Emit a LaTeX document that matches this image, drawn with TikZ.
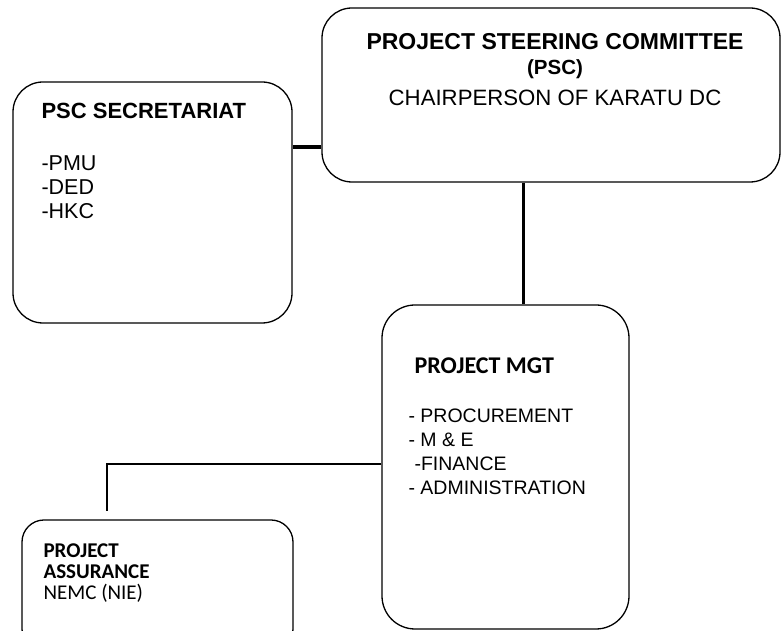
\documentclass[tikz,border=0pt]{standalone}
\usepackage{fontspec}
\setmainfont{Liberation Sans}
\newfontfamily\calibri{Carlito}
\usetikzlibrary{positioning}

\begin{document}
\begin{tikzpicture}[x=1pt,y=1pt,node distance=5pt,
panel/.style={
  draw=black,
  line width=1.3pt,
  rounded corners=30pt,
  inner sep=0pt},
panel2/.style={
  panel,
  rounded corners=22pt},
label/.style={
  inner sep=0pt,
  align=left,
  font={\fontsize{21.5pt}{24pt}\selectfont}},
headline/.style={
  label,
  align=center,
  font={\bfseries\fontsize{22pt}{25pt}\selectfont}},
calibrilabel/.style={
  label,
  font={\calibri\fontsize{21pt}{21pt}\selectfont}},
link/.style={
  line width=1.3pt},
]

\useasboundingbox (0,0) rectangle (782,631);
\clip (0,0) rectangle (782,631);

\node[panel,minimum width=458pt,minimum height=174pt] (PSC) at (551,536) {};
\node[headline,below=26pt of PSC.north,xshift=4pt] (psctitle)
{{\fontsize{23pt}{25pt}\selectfont PROJECT STEERING COMMITTEE}\\
{\fontsize{20.5pt}{25pt}\selectfont (PSC)}\\[6pt]
{\mdseries\fontsize{22.2pt}{25pt}\selectfont CHAIRPERSON OF KARATU DC}};

\node[panel,minimum width=279pt,minimum height=241pt] (SEC) at (152.5,428.5) {};
\node[label,below right=22pt and 29pt of SEC.north west] (sectext)
{{\bfseries\fontsize{22pt}{24pt}\selectfont PSC SECRETARIAT}\\[28pt]-PMU\\-DED\\-HKC};

\node[panel,minimum width=247pt,minimum height=324pt,rounded corners=33pt] (MGT) at (505.5,164) {};
\node[calibrilabel,below right=53pt and 33pt of MGT.north west,
  font={\calibri\bfseries\fontsize{24pt}{27pt}\selectfont}] (mgttitle) {PROJECT MGT};
\node[label,below right=104pt and 27pt of MGT.north west,
  font={\fontsize{19.5pt}{24pt}\selectfont}] (mgtlist)
{- PROCUREMENT\\- M \& E\\\hspace*{6pt}-FINANCE\\- ADMINISTRATION};

\node[panel2,minimum width=271pt,minimum height=131pt] (PA) at (157.5,45.5) {};
\node[calibrilabel,below right=24pt and 22pt of PA.north west] (patext)
{{\bfseries PROJECT}\\{\bfseries ASSURANCE}\\NEMC (NIE)};

% connectors
\coordinate (secjoin) at (307,484);
\draw[line width=4.5pt] (secjoin -| SEC.east) -- (secjoin -| PSC.west);

\coordinate (mgtdrop) at (523,400);
\draw[line width=3pt] (mgtdrop |- PSC.south) -- (mgtdrop |- MGT.north);

\coordinate (pabend) at (107,167);
\path (PA.north) ++(0,8pt) coordinate (patop);
\draw[link] (pabend -| MGT.west) -| (pabend |- patop);

\end{tikzpicture}
\end{document}
